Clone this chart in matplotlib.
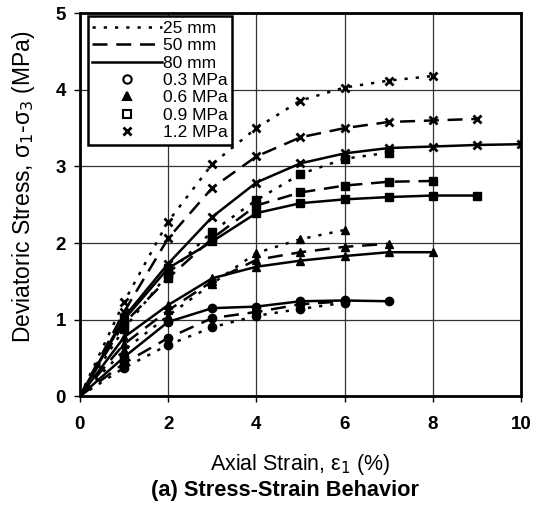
import matplotlib
matplotlib.use('Agg')
import matplotlib.pyplot as plt
from matplotlib.lines import Line2D

plt.rcParams['font.family'] = ['Liberation Sans', 'DejaVu Sans']

# strain (%) at the measured points, stress (MPa) per specimen length / confining pressure
strain = [0, 1, 2, 3, 4, 5, 6, 7, 8, 9, 10]

s25_03 = [0, 0.37, 0.67, 0.90, 1.05, 1.14, 1.22]
s50_03 = [0, 0.43, 0.76, 1.02, 1.10, 1.20, 1.24]
s80_03 = [0, 0.51, 0.97, 1.15, 1.17, 1.24, 1.25, 1.24]

s25_06 = [0, 0.60, 1.05, 1.47, 1.87, 2.05, 2.17]
s50_06 = [0, 0.68, 1.12, 1.50, 1.78, 1.88, 1.95, 1.99]
s80_06 = [0, 0.77, 1.19, 1.54, 1.69, 1.77, 1.83, 1.88, 1.88]

s25_09 = [0, 0.88, 1.60, 2.15, 2.56, 2.90, 3.10, 3.18]
s50_09 = [0, 0.95, 1.54, 2.06, 2.49, 2.66, 2.75, 2.80, 2.81]
s80_09 = [0, 1.00, 1.67, 2.02, 2.39, 2.52, 2.57, 2.60, 2.62, 2.62]

s25_12 = [0, 1.23, 2.28, 3.03, 3.50, 3.86, 4.03, 4.12, 4.18]
s50_12 = [0, 1.10, 2.06, 2.72, 3.13, 3.38, 3.50, 3.58, 3.60, 3.62]
s80_12 = [0, 1.03, 1.73, 2.34, 2.79, 3.04, 3.17, 3.24, 3.26, 3.28, 3.29]

lengths = ['25 mm', '50 mm', '80 mm']
pressures = ['0.3 MPa', '0.6 MPa', '0.9 MPa', '1.2 MPa']

styles = {'25 mm': (0, (1.3, 3.2)), '50 mm': (0, (6, 3.5)), '80 mm': '-'}
marks = {'0.3 MPa': 'o', '0.6 MPa': '^', '0.9 MPa': 's', '1.2 MPa': 'x'}

series = [
    ('25 mm', '0.3 MPa', s25_03), ('50 mm', '0.3 MPa', s50_03), ('80 mm', '0.3 MPa', s80_03),
    ('25 mm', '0.6 MPa', s25_06), ('50 mm', '0.6 MPa', s50_06), ('80 mm', '0.6 MPa', s80_06),
    ('25 mm', '0.9 MPa', s25_09), ('50 mm', '0.9 MPa', s50_09), ('80 mm', '0.9 MPa', s80_09),
    ('25 mm', '1.2 MPa', s25_12), ('50 mm', '1.2 MPa', s50_12), ('80 mm', '1.2 MPa', s80_12),
]

fig = plt.figure(figsize=(5.36, 5.08), dpi=100)
ax = fig.add_axes([0.149, 0.22, 0.823, 0.754])

for ln, pr, vals in series:
    x = strain[:len(vals)]
    ax.plot(x, vals, color='black', linestyle=styles[ln], linewidth=1.8)
    ax.plot(x[1:], vals[1:], linestyle='none', marker=marks[pr], color='black',
            markersize=6, markeredgewidth=2.0 if pr == '1.2 MPa' else 1.0)

ax.set_xlim(0, 10)
ax.set_ylim(0, 5)
ax.set_xticks([0, 2, 4, 6, 8, 10])
ax.set_yticks([0, 1, 2, 3, 4, 5])
ax.grid(True, color='#333333', linewidth=0.9)
ax.set_axisbelow(True)
for sp in ax.spines.values():
    sp.set_linewidth(2.0)
ax.tick_params(direction='out', length=4, width=1, labelsize=13.5)
ax.tick_params(axis='x', pad=10)
ax.tick_params(axis='y', pad=6)
for lab in ax.get_xticklabels() + ax.get_yticklabels():
    lab.set_fontweight('bold')

ax.set_xlabel('Axial Strain, ε$_1$ (%)', fontsize=15.5, labelpad=14)
ax.set_ylabel('Deviatoric Stress, σ$_1$-σ$_3$ (MPa)', fontsize=16.5)
ax.yaxis.set_label_coords(-0.098, 0.546)

handles = []
for ln in lengths:
    handles.append(Line2D([], [], color='black', linestyle=styles[ln], linewidth=1.8))
for pr in pressures:
    face = 'white' if pr in ('0.3 MPa', '0.9 MPa') else 'black'
    handles.append(Line2D([], [], color='black', linestyle='none', marker=marks[pr],
                          markersize=6, markerfacecolor=face,
                          markeredgewidth=2.0 if pr == '1.2 MPa' else 1.5))
leg = ax.legend(handles, lengths + pressures, loc='upper left', bbox_to_anchor=(0.018, 0.992),
                borderaxespad=0, fontsize=12.5, handlelength=4.0, handletextpad=0.1,
                labelspacing=0.13, borderpad=0.25, fancybox=False, framealpha=1,
                edgecolor='black')
leg.get_frame().set_linewidth(1.8)

fig.text(0.532, 0.034, '(a) Stress-Strain Behavior', ha='center', va='center',
         fontsize=15.7, fontweight='bold')

fig.savefig('out.png', dpi=100)
